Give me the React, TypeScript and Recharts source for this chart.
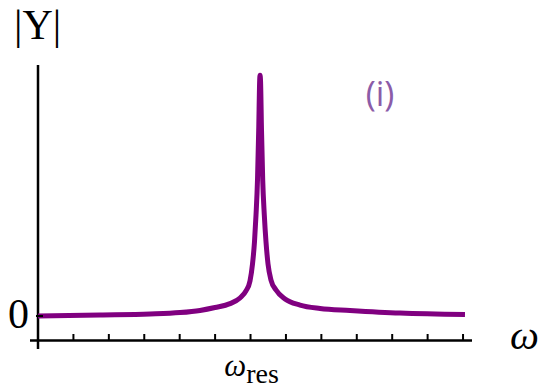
import React from 'react';
import { LineChart, Line, XAxis, YAxis, ReferenceLine } from 'recharts';

// frequency (omega) sample positions, in tick units (13 ticks: 0..12)
const omegaValues = [
  0, 1.75, 3.162, 4.009, 4.574, 4.997, 5.421, 5.703, 5.872, 5.985, 6.056, 6.112, 6.155, 6.197, 6.231, 6.259, 6.268,
  6.282, 6.31, 6.344, 6.389, 6.437, 6.494, 6.578, 6.72, 6.974, 7.397, 7.962, 8.809, 10.22, 12.055,
];
// |Y| values
const admittanceValues = [
  0, 0.004, 0.008, 0.014, 0.023, 0.035, 0.051, 0.074, 0.103, 0.144, 0.214, 0.305, 0.416, 0.56, 0.765, 0.971, 0.991,
  0.971, 0.765, 0.56, 0.416, 0.305, 0.214, 0.148, 0.107, 0.07, 0.045, 0.031, 0.023, 0.012, 0.006,
];
const xTicks = [0, 1, 2, 3, 4, 5, 6, 7, 8, 9, 10, 11, 12];
const yTicks = [0];
const resonanceTick = 6;
const xDomain = [-0.226, 12.253];
const yDomain = [-0.1358, 1.0329];
const xAxisLevel = -0.1008;
const yAxisTitle = '|Y|';
const xAxisTitle = 'ω';
const panelTag = '(i)';

const data = omegaValues.map((w, i) => ({ w, y: admittanceValues[i] }));

const SERIF = '"Liberation Serif", "DejaVu Serif", serif';

const XTick = (props: any) => {
  const { x, y, payload } = props;
  return (
    <g>
      <line x1={x} x2={x} y1={y - 15} y2={y - 8.5} stroke="#000" strokeWidth={2} />
      {payload.value === resonanceTick && (
        <text x={x + 1} y={y + 27} textAnchor="middle" fontFamily={SERIF} fill="#000">
          <tspan fontStyle="italic" fontSize={31}>ω</tspan>
          <tspan fontSize={28} dy={6.5}>res</tspan>
        </text>
      )}
    </g>
  );
};

const YTick = (props: any) => {
  const { x, y, payload } = props;
  return (
    <g>
      <line x1={x + 6} x2={x + 13} y1={y} y2={y} stroke="#000" strokeWidth={2} />
      <text x={x - 1} y={y + 12} textAnchor="end" fontFamily={SERIF} fontSize={42} fill="#000">
        {payload.value}
      </text>
    </g>
  );
};

export default function App() {
  return (
    <div style={{ position: 'absolute', left: 0, top: 0, width: 542, height: 389, background: '#fff' }}>
      <LineChart width={542} height={389} data={data} margin={{ top: 65, right: 70, left: 0, bottom: 0 }}>
        <XAxis
          dataKey="w"
          type="number"
          domain={xDomain}
          ticks={xTicks}
          allowDataOverflow
          axisLine={false}
          tickLine={false}
          tickSize={0}
          tickMargin={0}
          height={40}
          tick={<XTick />}
          interval={0}
        />
        <YAxis
          type="number"
          domain={yDomain}
          ticks={yTicks}
          allowDataOverflow
          axisLine={false}
          tickLine={false}
          tickSize={0}
          tickMargin={0}
          width={30}
          tick={<YTick />}
          interval={0}
        />
        <ReferenceLine y={xAxisLevel} stroke="#000" strokeWidth={2.5} />
        <ReferenceLine x={0} stroke="#000" strokeWidth={2.5} />
        <Line
          dataKey="y"
          type="monotone"
          stroke="#800080"
          strokeWidth={5}
          strokeLinejoin="round"
          dot={false}
          activeDot={false}
          isAnimationActive={false}
        />
      </LineChart>
      <svg
        width={542}
        height={389}
        style={{ position: 'absolute', left: 0, top: 0, pointerEvents: 'none' }}
      >
        <text x={14} y={39} fontFamily={SERIF} fontSize={42} fill="#000">
          {yAxisTitle}
        </text>
        <text x={380} y={106} textAnchor="middle" fontFamily='"Open Sans", sans-serif' fontSize={34} fill="#8b5ca8">
          {panelTag}
        </text>
        <text x={510} y={349} fontFamily={SERIF} fontStyle="italic" fontSize={41} fill="#000">
          {xAxisTitle}
        </text>
      </svg>
    </div>
  );
}
